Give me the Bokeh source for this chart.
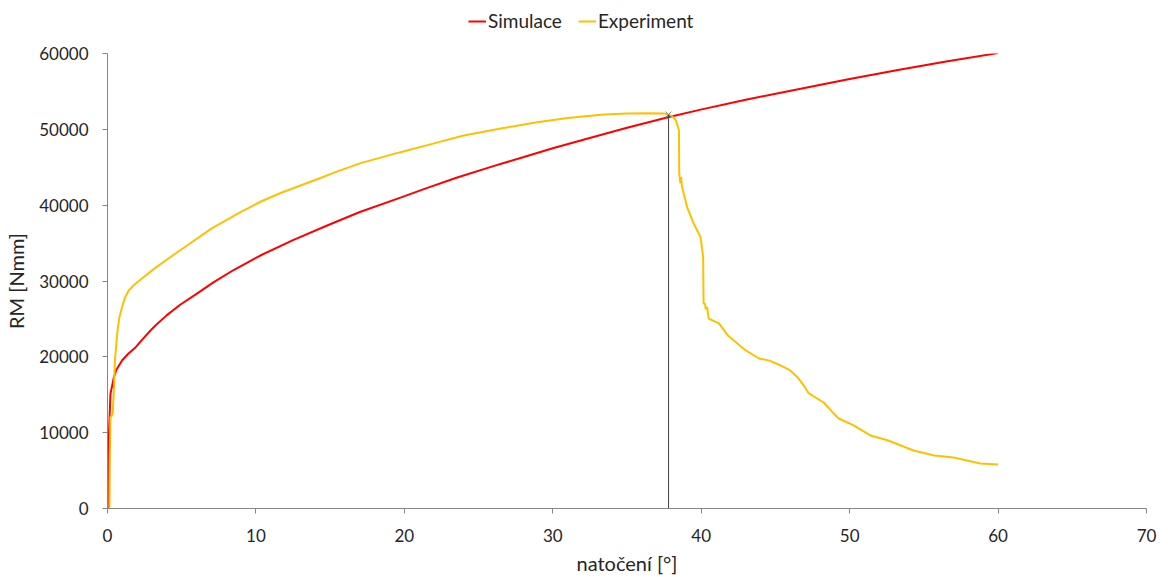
from bokeh.plotting import figure
from bokeh.layouts import column
from bokeh.models import Legend, LegendItem, Range1d, FixedTicker
from bokeh.embed import file_html
from bokeh.resources import INLINE

# Simulace (red)
sim_x = [0, 0.04, 0.1, 0.2, 0.43, 0.6, 0.98, 1.4, 1.9, 2.4, 2.9, 3.23, 4.0, 4.92, 6.0, 7.16,
         8.5, 10.3, 12.5, 14.8, 17.0, 19.74, 21.5, 23.56, 26.0, 28.05, 30.0, 32.55, 35.0,
         37.7, 39.96, 43.0, 46.7, 50.0, 53.44, 56.5, 60.0]
sim_y = [0, 0, 10000, 15120, 17310, 18300, 19520, 20400, 21270, 22400, 23470, 24130, 25500,
         26900, 28300, 29850, 31450, 33360, 35400, 37320, 39100, 41000, 42250, 43650, 45150,
         46350, 47500, 48900, 50200, 51550, 52600, 53900, 55350, 56650, 57900, 58950, 60050]

# Experiment (yellow)
exp_x = [0.13, 0.15, 0.2, 0.27, 0.35, 0.43, 0.5, 0.65, 0.8, 0.98, 1.2, 1.43, 1.8, 2.3, 3.2,
         4.2, 5.36, 7.0, 8.96, 10.3, 11.66, 13.9, 15.5, 17.05, 19.74, 22.0, 24.0, 26.5, 28.95,
         31.0, 33.44, 35.0, 36.6, 37.5, 38.0, 38.3, 38.5,
         38.52, 38.6, 38.65, 38.7, 39.05, 39.5, 39.96, 40.13, 40.16, 40.25, 40.3, 40.4,
         40.5, 41.2, 41.8, 43.0, 43.9, 44.6, 45.35, 46.0, 46.5, 47.0, 47.25, 48.25, 48.8,
         49.26, 50.27, 51.4, 52.6, 54.3, 55.7, 57.0, 58.8, 60.0]
exp_y = [0, 6000, 12040, 12200, 12500, 15560, 19500, 23040, 25200, 26550, 27900, 28750, 29500,
         30300, 31700, 33100, 34680, 36900, 39080, 40450, 41600, 43250, 44450, 45540, 46990,
         48150, 49190, 50100, 50940, 51500, 51960, 52080, 52130, 52100, 51800, 51170, 49850,
         44180, 42860, 43700, 42500, 39730, 37540, 35780, 33140, 27030, 27000, 26300, 26550,
         25050, 24400, 22800, 20840, 19780, 19500, 18860, 18200, 17280, 15960, 15170, 13980,
         12800, 11870, 10950, 9630, 8970, 7650, 6990, 6730, 5930, 5800]

# marker / vertical line at failure point
fail_x = [37.8]
fail_y = [51960]

x_ticks = [0, 10, 20, 30, 40, 50, 60, 70]
y_ticks = [0, 10000, 20000, 30000, 40000, 50000, 60000]

FONT = "Lato"
AXIS_COL = "#868686"
TXT_COL = "#262626"
SIM_COL = "#FF0000"
EXP_COL = "#FFC000"

LEG_H = 32

p = figure(width=1168, height=577 - LEG_H, output_backend="svg", toolbar_location=None,
           x_range=Range1d(0, 70), y_range=Range1d(0, 60000),
           min_border_left=107, min_border_right=22, min_border_top=53 - LEG_H,
           min_border_bottom=69)
p.outline_line_color = None
p.xgrid.visible = False
p.ygrid.visible = False
p.background_fill_color = "white"
p.border_fill_color = "white"

p.line(sim_x, sim_y, line_color=SIM_COL, line_width=2)
p.line(exp_x, exp_y, line_color=EXP_COL, line_width=2)
p.segment(x0=fail_x, y0=[0], x1=fail_x, y1=fail_y, line_color="#404040", line_width=1)
p.scatter(fail_x, fail_y, marker="x", size=8, line_color="#7F7F7F", line_width=1)

for ax in (p.xaxis[0], p.yaxis[0]):
    ax.axis_line_color = AXIS_COL
    ax.major_tick_line_color = AXIS_COL
    ax.major_tick_out = 5
    ax.major_tick_in = 0
    ax.minor_tick_line_color = None
    ax.major_label_text_font = FONT
    ax.major_label_text_font_size = "17px"
    ax.major_label_text_color = TXT_COL
    ax.axis_label_text_font = FONT
    ax.axis_label_text_font_size = "20px"
    ax.axis_label_text_font_style = "normal"
    ax.axis_label_text_color = TXT_COL

p.xaxis.ticker = FixedTicker(ticks=x_ticks)
p.yaxis.ticker = FixedTicker(ticks=y_ticks)
p.xaxis.axis_label = "natočení [°]"
p.yaxis.axis_label = "RM [Nmm]"
p.xaxis.major_label_standoff = 15
p.yaxis.major_label_standoff = 14
p.xaxis.axis_label_standoff = 6
p.yaxis.axis_label_standoff = 8

# legend strip above the plot
lf = figure(width=1168, height=LEG_H, output_backend="svg", toolbar_location=None,
            x_range=Range1d(0, 1), y_range=Range1d(0, 1),
            min_border_left=0, min_border_right=0, min_border_top=0, min_border_bottom=0)
lf.axis.visible = False
lf.xgrid.visible = False
lf.ygrid.visible = False
lf.outline_line_color = None
# legend-only renderers, kept outside the visible range of this strip
l_sim = lf.line([5, 6], [5, 6], line_color=SIM_COL, line_width=2)
l_exp = lf.line([5, 6], [5, 6], line_color=EXP_COL, line_width=2)
legend = Legend(items=[LegendItem(label="Simulace", renderers=[l_sim]),
                       LegendItem(label="Experiment", renderers=[l_exp])],
                orientation="horizontal", location=(361, 0),
                border_line_color=None, background_fill_alpha=0,
                label_text_font=FONT, label_text_font_size="19px", label_text_color=TXT_COL,
                glyph_width=18, glyph_height=20, label_standoff=2, spacing=16,
                padding=0, margin=0, label_height=20)
lf.add_layout(legend, "center")

layout = column(lf, p, spacing=0)
open("out.html", "w").write(file_html(layout, INLINE))
